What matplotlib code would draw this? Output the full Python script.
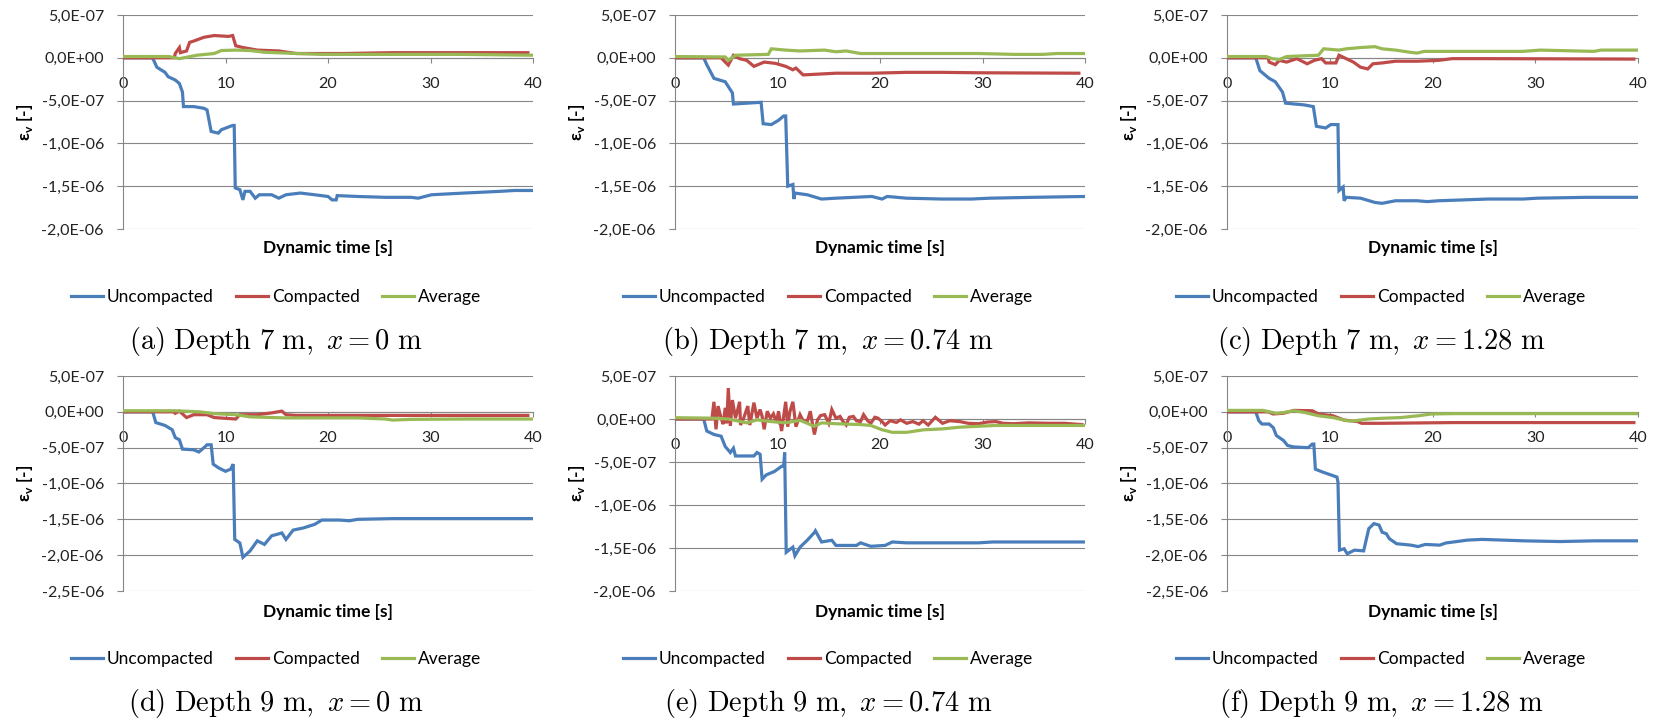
import numpy as np
import matplotlib
matplotlib.use("Agg")
import matplotlib.pyplot as plt
from matplotlib.ticker import FuncFormatter

# volumetric strain, values in units of 1e-7, time in s
UNC_A = [(0, 0), (2.85, 0), (3.0, -0.3), (3.3, -1.1), (4.1, -1.7), (4.4, -2.2), (5.1, -2.6), (5.5, -3.0),
         (5.8, -4.0), (5.9, -5.7), (6.9, -5.7), (7.9, -5.9), (8.2, -6.1), (8.6, -8.6), (9.3, -8.8), (9.6, -8.4),
         (10.7, -7.9), (10.85, -7.9), (10.95, -15.2), (11.4, -15.4), (11.7, -16.6), (11.9, -15.6), (12.4, -15.6),
         (12.9, -16.4), (13.3, -16.0), (14.5, -16.0), (15.2, -16.4), (15.9, -16.0), (17.3, -15.8), (18.7, -16.0),
         (20.0, -16.2), (20.4, -16.6), (20.8, -16.6), (20.9, -16.1), (22.9, -16.2), (25.6, -16.3), (28.1, -16.3),
         (28.8, -16.4), (30.1, -16.0), (33.3, -15.8), (36.8, -15.6), (38.2, -15.5), (40, -15.5)]
COM_A = [(0, 0), (5.0, 0), (5.1, 0.5), (5.5, 1.2), (5.6, 0.6), (6.2, 0.8), (6.5, 1.8), (7.0, 2.0), (7.9, 2.4),
         (8.9, 2.6), (10.3, 2.5), (10.7, 2.6), (11.0, 1.4), (11.7, 1.2), (13.1, 0.9), (15.2, 0.8), (16.9, 0.5),
         (19.4, 0.5), (21.5, 0.5), (26.3, 0.6), (33.3, 0.6), (39.5, 0.6)]
AVG_A = [(0, 0.15), (4.5, 0.15), (5.5, -0.1), (7.2, 0.3), (8.9, 0.5), (9.6, 0.85), (11.0, 0.9), (12.4, 0.85),
         (13.8, 0.65), (15.9, 0.55), (19.4, 0.4), (22.9, 0.4), (33.0, 0.4), (40, 0.3)]

UNC_B = [(0, 0), (2.8, 0), (3.1, -0.8), (3.8, -2.4), (4.9, -2.8), (5.6, -4.1), (5.7, -5.4), (8.4, -5.2),
         (8.6, -7.7), (9.4, -7.8), (10.1, -7.3), (10.6, -6.8), (10.8, -6.8), (11.0, -15.0), (11.5, -14.8),
         (11.6, -16.5), (11.7, -15.8), (12.9, -16.0), (14.3, -16.5), (15.7, -16.4), (19.2, -16.2), (20.2, -16.5),
         (20.7, -16.2), (22.6, -16.4), (26.1, -16.5), (28.9, -16.5), (30.7, -16.4), (34.9, -16.3), (40, -16.2)]
COM_B = [(0, 0), (4.5, 0), (4.9, -0.5), (5.2, -0.85), (5.7, 0.3), (6.3, -0.1), (7.0, -0.3), (7.7, -1.0),
         (8.7, -0.5), (9.8, -0.65), (10.8, -1.0), (11.5, -1.4), (11.8, -1.2), (12.5, -2.0), (15.7, -1.8),
         (19.2, -1.8), (22.6, -1.7), (26.1, -1.7), (29.6, -1.75), (39.4, -1.8)]
AVG_B = [(0, 0.15), (4.9, 0.1), (5.2, -0.3), (5.9, 0.3), (9.1, 0.4), (9.4, 1.05), (10.8, 0.9), (12.2, 0.8),
         (14.6, 0.9), (15.7, 0.7), (16.7, 0.8), (18.1, 0.5), (22.6, 0.5), (29.6, 0.5), (33.1, 0.4), (35.9, 0.4),
         (37.3, 0.5), (40, 0.5)]

UNC_C = [(0, 0), (2.8, 0), (3.2, -1.5), (4.1, -2.4), (4.7, -2.8), (5.4, -4.0), (5.7, -5.3), (7.5, -5.5),
         (8.4, -5.7), (8.7, -8.0), (9.6, -8.2), (10.1, -7.8), (10.8, -7.8), (10.9, -15.5), (11.3, -15.1),
         (11.4, -16.7), (11.6, -16.3), (13.0, -16.4), (14.4, -16.9), (15.1, -17.0), (16.4, -16.7), (18.5, -16.7),
         (19.5, -16.8), (20.6, -16.7), (25.4, -16.5), (28.8, -16.5), (30.2, -16.4), (35.0, -16.3), (40, -16.3)]
COM_C = [(0, 0), (4.0, 0), (4.1, -0.5), (4.7, -0.8), (5.1, -0.3), (5.8, -0.5), (6.8, -0.1), (7.8, -0.7),
         (8.5, -0.3), (9.2, -0.1), (9.6, -0.6), (10.6, -0.6), (10.9, 0.3), (11.6, -0.1), (12.3, -0.5),
         (13.0, -1.1), (13.7, -1.3), (14.2, -0.7), (15.1, -0.6), (16.4, -0.4), (18.5, -0.4), (20.6, -0.3),
         (21.9, -0.1), (25.4, -0.1), (39.6, -0.15)]
AVG_C = [(0, 0.15), (3.8, 0.15), (4.4, -0.1), (5.1, -0.2), (5.8, 0.15), (8.9, 0.3), (9.4, 1.05), (10.9, 0.9),
         (11.6, 1.05), (13.0, 1.2), (14.4, 1.3), (15.1, 1.05), (16.4, 0.9), (17.8, 0.65), (18.5, 0.55),
         (19.2, 0.75), (28.8, 0.75), (30.5, 0.9), (32.2, 0.85), (35.7, 0.75), (36.4, 0.9), (40, 0.9)]

UNC_D = [(0, 0), (2.9, 0), (3.2, -1.5), (4.1, -1.9), (4.8, -2.5), (5.1, -3.6), (5.5, -3.9), (5.8, -5.2),
         (6.9, -5.3), (7.4, -5.6), (7.9, -5.0), (8.2, -4.6), (8.6, -4.6), (8.8, -7.3), (9.3, -7.8), (10.0, -8.3),
         (10.5, -8.0), (10.75, -7.3), (10.9, -17.8), (11.4, -18.3), (11.7, -20.3), (12.4, -19.4), (13.1, -18.0),
         (13.8, -18.5), (14.5, -17.3), (15.5, -16.9), (15.9, -17.8), (16.6, -16.5), (17.6, -16.2), (18.7, -15.7),
         (19.4, -15.1), (21.1, -15.1), (22.1, -15.2), (22.9, -15.0), (26.3, -14.9), (33.3, -14.9), (40, -14.9)]
COM_D = [(0, 0), (5.0, 0), (5.1, -0.2), (5.5, 0.1), (6.2, -0.8), (6.9, -0.4), (8.2, -0.4), (8.9, -0.8),
         (11.0, -1.0), (11.4, -0.4), (13.1, -0.4), (14.5, -0.15), (15.5, 0.1), (15.9, -0.4), (16.9, -0.5),
         (39.5, -0.5)]
AVG_D = [(0, 0.15), (5.0, 0.15), (7.5, 0.0), (8.9, -0.25), (11.0, -0.4), (12.4, -0.7), (15.9, -0.85),
         (22.9, -0.85), (25.6, -1.0), (26.3, -1.15), (28.0, -1.05), (33.3, -1.0), (40, -1.0)]

UNC_E = [(0, 0), (2.8, 0), (3.1, -1.4), (3.8, -1.8), (4.5, -2.0), (4.9, -3.2), (5.4, -3.9), (5.7, -3.4),
         (5.9, -4.3), (7.7, -4.3), (8.0, -3.9), (8.3, -4.1), (8.5, -7.0), (8.9, -6.5), (9.7, -6.1), (10.4, -5.5),
         (10.6, -5.5), (10.7, -3.9), (10.85, -15.5), (11.5, -14.9), (11.7, -15.9), (12.2, -14.9), (12.9, -14.1),
         (13.6, -13.2), (13.7, -13.0), (14.3, -14.3), (15.3, -14.1), (15.7, -14.7), (17.7, -14.7), (18.1, -14.4),
         (19.1, -14.8), (20.5, -14.7), (21.2, -14.3), (22.6, -14.4), (29.6, -14.4), (31.0, -14.3), (40, -14.3)]
COM_E = [(0, 0), (3.6, 0), (3.8, 2.0), (4.0, -1.2), (4.2, 1.5), (4.5, 0.1), (4.7, -0.6), (4.9, 1.3),
         (5.05, -0.5), (5.2, 3.6), (5.4, -0.8), (5.6, 2.2), (5.9, 0.1), (6.1, 1.0), (6.3, 2.0), (6.4, -0.7),
         (6.7, 0.1), (6.9, 0.8), (7.1, 1.5), (7.3, -0.7), (7.7, 1.9), (8.0, 0.1), (8.3, 1.1), (8.5, 0.3),
         (8.7, -1.2), (9.0, 0.9), (9.3, 0.1), (9.6, 0.6), (9.9, -0.4), (10.1, 0.9), (10.4, -1.4), (10.8, 2.0),
         (11.0, -0.9), (11.2, 0.8), (11.5, 2.0), (11.8, -0.9), (12.2, 0.5), (12.5, -0.2), (12.9, -0.3),
         (13.2, 0.9), (13.6, -1.8), (13.9, -0.1), (14.2, 0.4), (14.6, 0.5), (15.0, -0.5), (15.3, 1.1),
         (15.7, 0.1), (16.1, 0.3), (16.4, -0.3), (16.7, -0.7), (17.0, 0.2), (17.4, 0.3), (17.7, -0.2),
         (18.1, -0.3), (18.4, 0.5), (18.8, -0.2), (19.1, -0.5), (19.5, 0.2), (19.8, 0.1), (20.2, -0.3),
         (20.5, -0.7), (21.0, -0.2), (21.6, -0.4), (22.0, -0.1), (22.6, -0.5), (23.2, -0.3), (23.8, -0.6),
         (24.2, -0.2), (24.7, -0.7), (25.4, 0.2), (26.1, -0.5), (26.8, -0.2), (27.8, -0.3), (28.6, -0.5),
         (29.6, -0.55), (30.5, -0.35), (31.3, -0.3), (32.0, -0.5), (33.0, -0.55), (34.5, -0.45), (36.5, -0.5),
         (38.0, -0.5), (39.7, -0.65)]
AVG_E = [(0, 0.15), (3.5, 0.1), (5.2, 0.0), (7.0, -0.45), (8.0, -0.1), (9.4, -0.3), (10.8, -0.45),
         (12.2, -0.15), (13.6, -0.85), (14.3, -0.45), (15.7, -0.55), (18.1, -0.65), (19.1, -0.75),
         (20.2, -1.25), (21.2, -1.55), (22.6, -1.55), (24.3, -1.25), (26.1, -1.15), (27.8, -0.95),
         (31.3, -0.75), (40, -0.75)]

UNC_F = [(0, 0), (2.8, 0), (3.1, -1.25), (3.4, -1.7), (4.1, -1.7), (4.5, -2.2), (4.8, -3.3), (5.5, -4.0),
         (5.9, -4.7), (6.5, -4.9), (7.9, -5.0), (8.3, -4.5), (8.45, -4.5), (8.6, -8.0), (9.3, -8.4),
         (10.3, -8.9), (10.7, -9.1), (10.8, -9.8), (10.95, -19.3), (11.4, -19.1), (11.7, -19.8), (12.4, -19.3),
         (13.3, -19.4), (13.8, -16.3), (14.3, -15.6), (14.8, -15.8), (15.1, -16.8), (15.5, -17.0),
         (15.8, -17.7), (16.2, -18.1), (16.5, -18.4), (17.2, -18.5), (17.9, -18.6), (18.6, -18.8),
         (19.3, -18.5), (20.7, -18.6), (21.3, -18.3), (23.4, -17.9), (24.8, -17.8), (26.9, -17.9),
         (28.9, -18.0), (32.4, -18.1), (35.8, -18.0), (40, -18.0)]
COM_F = [(0, 0), (4.0, 0), (4.5, -0.3), (5.5, -0.2), (6.5, 0.2), (8.3, 0.15), (8.9, -0.3), (10.3, -0.55),
         (11.4, -1.15), (12.7, -1.35), (13.1, -1.6), (15.1, -1.6), (18.6, -1.55), (22.0, -1.5), (39.6, -1.5)]
AVG_F = [(0, 0.2), (3.5, 0.2), (4.8, -0.2), (5.5, -0.1), (6.5, 0.15), (7.6, -0.1), (8.9, -0.55), (10.3, -0.8),
         (11.7, -1.25), (12.4, -1.25), (13.8, -1.0), (15.1, -0.9), (16.9, -0.8), (18.6, -0.55), (19.9, -0.3),
         (22.0, -0.25), (40, -0.25)]

SERIES = ["Uncompacted", "Compacted", "Average"]
COLORS = ["#4A7EBB", "#BE4B48", "#98B954"]
CAPTIONS = [r"$\mathrm{(a)\ Depth\ 7\ m,}\ x = 0\ \mathrm{m}$",
            r"$\mathrm{(b)\ Depth\ 7\ m,}\ x = 0.74\ \mathrm{m}$",
            r"$\mathrm{(c)\ Depth\ 7\ m,}\ x = 1.28\ \mathrm{m}$",
            r"$\mathrm{(d)\ Depth\ 9\ m,}\ x = 0\ \mathrm{m}$",
            r"$\mathrm{(e)\ Depth\ 9\ m,}\ x = 0.74\ \mathrm{m}$",
            r"$\mathrm{(f)\ Depth\ 9\ m,}\ x = 1.28\ \mathrm{m}$"]
PANELS = [(UNC_A, COM_A, AVG_A), (UNC_B, COM_B, AVG_B), (UNC_C, COM_C, AVG_C),
          (UNC_D, COM_D, AVG_D), (UNC_E, COM_E, AVG_E), (UNC_F, COM_F, AVG_F)]
Y_BOTTOM = [-2.0e-6, -2.0e-6, -2.0e-6, -2.5e-6, -2.0e-6, -2.5e-6]
X_TICKS = [0, 10, 20, 30, 40]

W, H = 1654, 726
COL_LEFT = [123, 675, 1227]
COL_RIGHT = [533, 1085, 1638]
COL_CENTER = [276, 828, 1381]
ROW_TOP = [15, 376]
ROW_BOTTOM = [229, 591]
XLABEL_Y = [248, 612]
LEGEND_Y = [297, 659]
CAPTION_Y = [341, 703]

FONT = ["Lato", "DejaVu Sans"]
GRID = "#868686"


def sci_comma(v, pos):
    if abs(v) < 1e-12:
        return "0,0E+00"
    return f"{v:.1E}".replace(".", ",")


fig = plt.figure(figsize=(W / 100, H / 100), dpi=100)
fig.patch.set_facecolor("white")

for i, data in enumerate(PANELS):
    row, col = divmod(i, 3)
    l, r = COL_LEFT[col], COL_RIGHT[col]
    t, b = ROW_TOP[row], ROW_BOTTOM[row]
    ax = fig.add_axes([l / W, 1 - b / H, (r - l) / W, (b - t) / H])

    handles = []
    for pts, name, c in zip(data, SERIES, COLORS):
        arr = np.array(pts, dtype=float)
        h, = ax.plot(arr[:, 0], arr[:, 1] * 1e-7, color=c, lw=2.3, label=name,
                     solid_joinstyle="miter", zorder=3)
        handles.append(h)

    ax.set_xlim(0, 40)
    ax.set_ylim(Y_BOTTOM[i], 5e-7)
    yt = np.round(np.arange(5e-7, Y_BOTTOM[i] - 1e-8, -5e-7), 12)
    ax.set_yticks(yt)
    ax.set_xticks(X_TICKS)
    ax.yaxis.set_major_formatter(FuncFormatter(sci_comma))
    ax.yaxis.grid(True, color=GRID, lw=0.8)
    ax.set_axisbelow(True)

    for s in ["top", "right"]:
        ax.spines[s].set_visible(False)
    ax.spines["left"].set_color(GRID)
    ax.spines["left"].set_linewidth(0.8)
    ax.spines["bottom"].set_position(("data", 0))
    ax.spines["bottom"].set_color(GRID)
    ax.spines["bottom"].set_linewidth(0.8)

    ax.tick_params(axis="y", length=4.3, width=0.8, color=GRID, pad=9.4, labelsize=11.5)
    ax.tick_params(axis="x", length=3.5, width=0.8, color=GRID, pad=10.5, labelsize=11.5)
    for lab in ax.get_xticklabels() + ax.get_yticklabels():
        lab.set_family(FONT)
        lab.set_color("#222222")

    # y label, x label, legend and caption placed in figure pixels
    fig.text((l - 98) / W, 1 - (t + b) / 2 / H, r"ε$_\mathregular{v}$ [-]", rotation=90,
             ha="center", va="center", fontsize=12.5, fontweight="bold", family=FONT)
    fig.text((l + r) / 2 / W, 1 - XLABEL_Y[row] / H, "Dynamic time [s]",
             ha="center", va="center", fontsize=12.5, fontweight="bold", family=FONT)
    fig.legend(handles=handles, loc="center", ncol=3, frameon=False,
               bbox_to_anchor=(COL_CENTER[col] / W, 1 - LEGEND_Y[row] / H),
               prop={"family": FONT, "size": 12.5}, handlelength=1.85,
               handletextpad=0.2, columnspacing=1.3, borderaxespad=0)
    fig.text(COL_CENTER[col] / W, 1 - CAPTION_Y[row] / H, CAPTIONS[i], ha="center", va="center",
             fontsize=20.5, math_fontfamily="cm")

fig.savefig("out.png", dpi=100)
